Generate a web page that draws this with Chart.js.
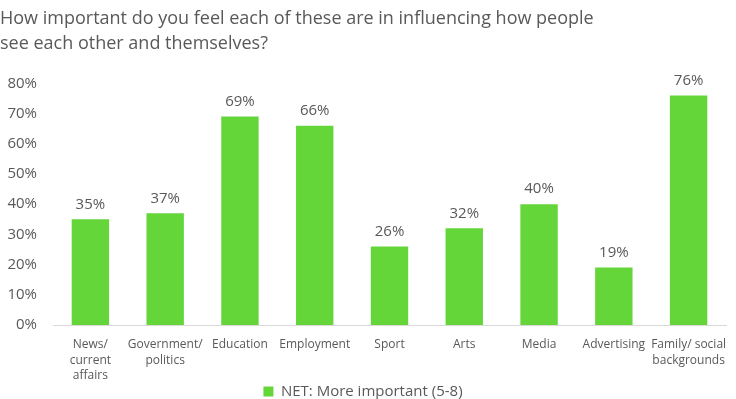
<!DOCTYPE html>
<html>
<head>
<meta charset="utf-8">
<script src="https://cdn.jsdelivr.net/npm/chart.js@4.4.1/dist/chart.umd.min.js"></script>
<style>
  html, body { margin: 0; padding: 0; background: #fff; }
  #wrap { width: 736px; height: 399px; position: relative; }
</style>
</head>
<body>
<div id="wrap"><canvas id="chart"></canvas></div>
<script>
// Data
const titleLines = [
  'How important do you feel each of these are in influencing how people',
  'see each other and themselves?'
];
const categories = [
  ['News/', 'current', 'affairs'],
  ['Government/', 'politics'],
  'Education',
  'Employment',
  'Sport',
  'Arts',
  'Media',
  'Advertising',
  ['Family/ social', 'backgrounds']
];
const seriesName = 'NET: More important (5-8)';
const seriesValues = [35, 37, 69, 66, 26, 32, 40, 19, 76];
const yTicks = [0, 10, 20, 30, 40, 50, 60, 70, 80];

const TEXT = '#595959';
const GREEN = '#64d63a';
const FONT = "'Open Sans', 'Noto Sans', sans-serif";

// values above the bars
const barLabels = {
  id: 'barLabels',
  afterDatasetsDraw(chart) {
    const ctx = chart.ctx;
    const meta = chart.getDatasetMeta(0);
    ctx.save();
    ctx.fillStyle = TEXT;
    ctx.font = `15px ${FONT}`;
    ctx.textAlign = 'center';
    ctx.textBaseline = 'middle';
    meta.data.forEach((bar, i) => {
      ctx.fillText(seriesValues[i] + '%', bar.x, bar.y - 15);
    });
    ctx.restore();
  }
};

new Chart(document.getElementById('chart'), {
  type: 'bar',
  data: {
    labels: categories,
    datasets: [{
      label: seriesName,
      data: seriesValues,
      backgroundColor: GREEN,
      borderWidth: 0,
      categoryPercentage: 1,
      barPercentage: 0.5
    }]
  },
  options: {
    responsive: true,
    maintainAspectRatio: false,
    animation: false,
    layout: { padding: { left: 0, right: 10, top: 0, bottom: -10 } },
    plugins: {
      title: {
        display: true,
        text: titleLines,
        align: 'start',
        color: TEXT,
        font: { family: FONT, size: 18, weight: 'normal', lineHeight: 1.4 },
        padding: { top: 6, bottom: 27 }
      },
      legend: {
        position: 'bottom',
        labels: {
          color: TEXT,
          font: { family: FONT, size: 15 },
          boxWidth: 10,
          boxHeight: 10,
          padding: 4
        }
      },
      tooltip: { enabled: false }
    },
    scales: {
      x: {
        grid: { display: false },
        border: { display: true, color: '#d9d9d9', width: 1 },
        ticks: {
          color: TEXT,
          font: { family: FONT, size: 12, lineHeight: 1.3 },
          maxRotation: 0,
          autoSkip: false,
          padding: 4
        },
        afterFit(scale) { scale.height = 55; }
      },
      y: {
        min: 0,
        max: 80,
        afterBuildTicks(scale) { scale.ticks = yTicks.map(v => ({ value: v })); },
        grid: { display: false, drawTicks: false },
        border: { display: false },
        ticks: {
          color: TEXT,
          font: { family: FONT, size: 15 },
          padding: 16,
          callback: v => v + '%'
        },
        afterFit(scale) { scale.width = 53; }
      }
    }
  },
  plugins: [barLabels]
});
</script>
</body>
</html>
